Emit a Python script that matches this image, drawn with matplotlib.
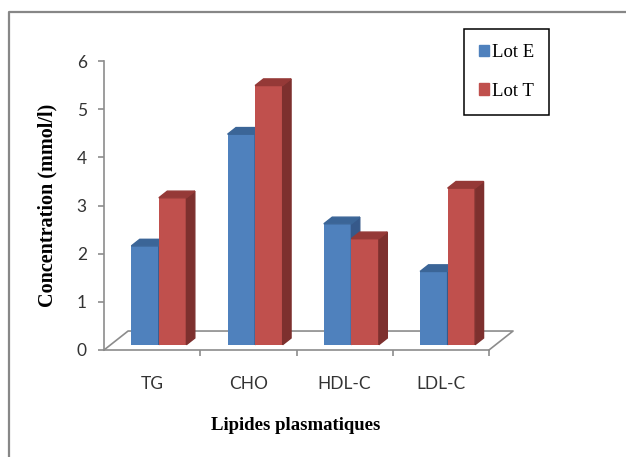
import matplotlib.pyplot as plt
from matplotlib.patches import Patch
from matplotlib.lines import Line2D

categories = ['TG', 'CHO', 'HDL-C', 'LDL-C']
lot_e = [2.05, 4.37, 2.51, 1.52]
lot_t = [3.05, 5.38, 2.20, 3.25]
series = [('Lot E', lot_e), ('Lot T', lot_t)]

# face colours (front, top, side)
colors = {
    'Lot E': ('#4F81BD', '#3B6597', '#36598A'),
    'Lot T': ('#C0504D', '#953937', '#7D302E'),
}

fig = plt.figure(figsize=(6.26, 4.57), dpi=100)
ax = fig.add_axes([104 / 626, 107 / 457, 385 / 626, 289 / 457])
ax.set_xlim(-0.5, len(categories) - 0.5)
ax.set_ylim(0, 6)

# depth of the floor in data units (oblique 3D look)
floor_dx, floor_dy = 0.25, 0.394
front = 0.28      # bars start this far into the floor
depth = 0.35      # bar depth as share of the floor
bar_w = 0.286

bx0 = front * floor_dx
by0 = front * floor_dy
ddx = depth * floor_dx
ddy = depth * floor_dy

# floor outline
x0, x1 = -0.5, len(categories) - 0.5
ax.fill([x0, x1, x1 + floor_dx, x0 + floor_dx], [0, 0, floor_dy, floor_dy],
        color='white', zorder=1, clip_on=False)
ax.plot([x0, x0 + floor_dx, x1 + floor_dx, x1], [0, floor_dy, floor_dy, 0],
        color='#8C8C8C', lw=1.2, zorder=1.5, clip_on=False)

for k, (name, vals) in enumerate(series):
    c_front, c_top, c_side = colors[name]
    for i, v in enumerate(vals):
        left = i - bar_w + k * bar_w + bx0
        right = left + bar_w
        z = 2 + i + k * 0.5
        ax.bar(left, v, width=bar_w, bottom=by0, align='edge', color=c_front,
               zorder=z, clip_on=False)
        ax.fill([right, right + ddx, right + ddx, right],
                [by0, by0 + ddy, by0 + ddy + v, by0 + v],
                color=c_side, zorder=z, clip_on=False)
        ax.fill([left, left + ddx, right + ddx, right],
                [by0 + v, by0 + v + ddy, by0 + v + ddy, by0 + v],
                color=c_top, zorder=z, clip_on=False)

for s in ['top', 'right']:
    ax.spines[s].set_visible(False)
for s in ['left', 'bottom']:
    ax.spines[s].set_color('#8C8C8C')
    ax.spines[s].set_linewidth(1.2)

ax.set_yticks(range(0, 7))
ax.tick_params(axis='y', length=4.3, width=1.2, color='#8C8C8C', pad=8,
               labelsize=12.5, labelcolor='#333333')
ax.set_xticks(range(len(categories)))
ax.set_xticklabels(categories)
ax.set_xticks([x0 + j for j in range(1, len(categories) + 1)], minor=True)
ax.tick_params(axis='x', which='major', length=0, pad=19, labelsize=12.5,
               labelcolor='#333333')
ax.tick_params(axis='x', which='minor', length=4, width=1.2, color='#8C8C8C')
for lab in ax.get_xticklabels() + ax.get_yticklabels():
    lab.set_family('Lato')

fig.text(47 / 626, 1 - 205 / 457, 'Concentration (mmol/l)', rotation=90,
         ha='center', va='center', family='Liberation Serif',
         fontweight='bold', fontsize=14.5)
fig.text(296 / 626, 1 - 425 / 457, 'Lipides plasmatiques', ha='center',
         va='center', family='Liberation Serif', fontweight='bold',
         fontsize=13.5)

handles = [Patch(color=colors[n][0]) for n, _ in series]
leg = fig.legend(handles, [n for n, _ in series], loc='upper left',
                 bbox_to_anchor=(464 / 626, 1 - 29 / 457),
                 prop={'family': 'Liberation Serif', 'size': 13.5},
                 frameon=True, fancybox=False, edgecolor='black',
                 framealpha=1, handlelength=0.55, handleheight=0.55,
                 handletextpad=0.12, labelspacing=1.15, borderpad=0.8,
                 borderaxespad=0)
leg.get_frame().set_linewidth(1.1)

# outer border (top and left edges visible)
fig.add_artist(Line2D([9 / 626, 9 / 626, 1], [0, 1 - 12 / 457, 1 - 12 / 457],
                      color='#878787', lw=1.6))

plt.savefig('out.png', dpi=100)
